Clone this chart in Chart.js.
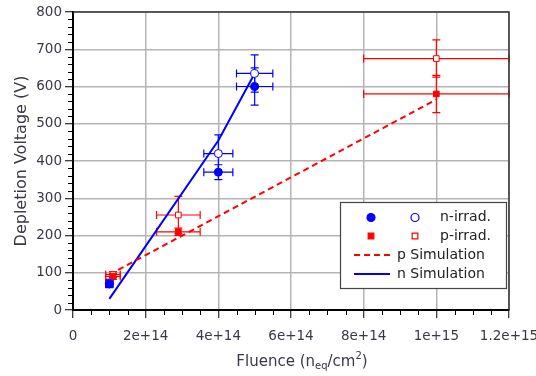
<!DOCTYPE html>
<html>
<head>
<meta charset="utf-8">
<script src="https://cdn.jsdelivr.net/npm/chart.js@4.4.0/dist/chart.umd.min.js"></script>
<style>
  html, body { margin: 0; padding: 0; background: #fff; }
</style>
</head>
<body>
<canvas id="chart" width="536" height="376"></canvas>
<script>
// n-irradiated sensors
const nFluence = [1e14, 4e14, 5e14];
const nFluenceErr = [0.1e14, 0.4e14, 0.5e14];
const nFilledV = [70, 370, 600];
const nFilledErr = [10, 20, 50];
const nOpenV = [72, 420, 635];
const nOpenErr = [10, 50, 50];

// p-irradiated sensors
const pFluence = [1.1e14, 2.9e14, 1e15];
const pFluenceErr = [0.2e14, 0.6e14, 2e14];
const pFilledV = [90, 210, 580];
const pFilledErr = [8, 10, 50];
const pOpenV = [95, 255, 675];
const pOpenErr = [8, 50, 50];

// simulation curves
const pSimFluence = [1e14, 1e15];
const pSimV = [95, 565];
const nSimFluence = [1e14, 4e14, 5e14];
const nSimV = [30, 455, 635];

const legendLabels = ["n-irrad.", "p-irrad.", "p Simulation", "n Simulation"];

const FONT = '"DejaVu Sans", sans-serif';
const TEXT = "#383848";
const BLUE = "#0000ff";
const RED = "#ff0000";

const pts = (xs, ys) => xs.map((x, i) => ({ x: x, y: ys[i] }));

function errorBars(ctx, sx, sy, xs, ys, xErr, yErr, color) {
    const cap = 4;
    ctx.save();
    ctx.strokeStyle = color;
    ctx.lineWidth = 1.2;
    for (let i = 0; i < xs.length; i++) {
        const px = sx.getPixelForValue(xs[i]);
        const py = sy.getPixelForValue(ys[i]);
        const x0 = sx.getPixelForValue(xs[i] - xErr[i]);
        const x1 = sx.getPixelForValue(xs[i] + xErr[i]);
        const y0 = sy.getPixelForValue(ys[i] - yErr[i]);
        const y1 = sy.getPixelForValue(ys[i] + yErr[i]);
        ctx.beginPath();
        ctx.moveTo(x0, py); ctx.lineTo(x1, py);
        ctx.moveTo(x0, py - cap); ctx.lineTo(x0, py + cap);
        ctx.moveTo(x1, py - cap); ctx.lineTo(x1, py + cap);
        ctx.moveTo(px, y0); ctx.lineTo(px, y1);
        ctx.moveTo(px - cap, y0); ctx.lineTo(px + cap, y0);
        ctx.moveTo(px - cap, y1); ctx.lineTo(px + cap, y1);
        ctx.stroke();
    }
    ctx.restore();
}

const errorBarPlugin = {
    id: "errorBars",
    beforeDatasetsDraw(chart) {
        const { ctx, scales } = chart;
        errorBars(ctx, scales.x, scales.y, nFluence, nFilledV, nFluenceErr, nFilledErr, BLUE);
        errorBars(ctx, scales.x, scales.y, nFluence, nOpenV, nFluenceErr, nOpenErr, BLUE);
        errorBars(ctx, scales.x, scales.y, pFluence, pFilledV, pFluenceErr, pFilledErr, RED);
        errorBars(ctx, scales.x, scales.y, pFluence, pOpenV, pFluenceErr, pOpenErr, RED);
    },
};

const framePlugin = {
    id: "frame",
    afterDraw(chart) {
        const { ctx, chartArea: ca, scales } = chart;
        ctx.save();
        // minor ticks
        ctx.strokeStyle = "#000";
        ctx.lineWidth = 1;
        ctx.beginPath();
        for (let v = 0; v <= 800; v += 20) {
            if (v % 100 === 0) continue;
            const y = Math.round(scales.y.getPixelForValue(v)) + 0.5;
            ctx.moveTo(ca.left - 5, y); ctx.lineTo(ca.left, y);
        }
        for (let k = 0; k <= 24; k++) {
            if (k % 4 === 0) continue;
            const x = Math.round(scales.x.getPixelForValue(k * 0.5e14)) + 0.5;
            ctx.moveTo(x, ca.bottom); ctx.lineTo(x, ca.bottom + 5);
        }
        ctx.stroke();

        // top / right frame
        ctx.strokeStyle = "#333";
        ctx.lineWidth = 1.5;
        ctx.beginPath();
        ctx.moveTo(ca.left, ca.top); ctx.lineTo(ca.right, ca.top); ctx.lineTo(ca.right, ca.bottom);
        ctx.stroke();

        // legend
        const bw = 166, bh = 86;
        const bx = ca.right - bw - 3, by = ca.top + 190;
        ctx.fillStyle = "#fff";
        ctx.fillRect(bx, by, bw, bh);
        ctx.strokeStyle = "#444";
        ctx.lineWidth = 1.2;
        ctx.strokeRect(bx + 0.5, by + 0.5, bw, bh);

        const rows = [by + 15.5, by + 34, by + 53, by + 72];
        const mk = (style, fill, color, x, y) => {
            ctx.fillStyle = fill;
            ctx.strokeStyle = color;
            Chart.helpers.drawPoint(ctx, { pointStyle: style, radius: 4, borderWidth: 1, rotation: 0 }, x, y);
        };
        mk("circle", BLUE, BLUE, bx + 31, rows[0]);
        mk("circle", "#fff", BLUE, bx + 75, rows[0]);
        mk("rect", RED, RED, bx + 31, rows[1]);
        mk("rect", "#fff", RED, bx + 75, rows[1]);

        ctx.lineWidth = 2;
        ctx.strokeStyle = RED;
        ctx.setLineDash([6, 4]);
        ctx.beginPath(); ctx.moveTo(bx + 14, rows[2]); ctx.lineTo(bx + 50, rows[2]); ctx.stroke();
        ctx.setLineDash([]);
        ctx.strokeStyle = BLUE;
        ctx.beginPath(); ctx.moveTo(bx + 14, rows[3]); ctx.lineTo(bx + 50, rows[3]); ctx.stroke();

        ctx.fillStyle = "#222";
        ctx.font = "14px " + FONT;
        ctx.textBaseline = "middle";
        ctx.textAlign = "left";
        ctx.fillText(legendLabels[0], bx + 100, rows[0]);
        ctx.fillText(legendLabels[1], bx + 100, rows[1]);
        ctx.fillText(legendLabels[2], bx + 57, rows[2]);
        ctx.fillText(legendLabels[3], bx + 57, rows[3]);

        // x axis title with sub/superscript
        const parts = [
            ["Fluence (n", 15, 0],
            ["eq", 10, 4],
            ["/cm", 15, 0],
            ["2", 10, -6],
            [")", 15, 0],
        ];
        let total = 0;
        for (const p of parts) {
            ctx.font = p[1] + "px " + FONT;
            total += ctx.measureText(p[0]).width;
        }
        let tx = (ca.left + ca.right) / 2 + 11 - total / 2;
        const ty = 362;
        ctx.fillStyle = TEXT;
        for (const p of parts) {
            ctx.font = p[1] + "px " + FONT;
            ctx.fillText(p[0], tx, ty + p[2]);
            tx += ctx.measureText(p[0]).width;
        }
        ctx.restore();
    },
};

new Chart(document.getElementById("chart").getContext("2d"), {
    type: "scatter",
    data: {
        datasets: [
            { label: "n filled", data: pts(nFluence, nFilledV), pointStyle: "circle", pointRadius: 4,
              backgroundColor: BLUE, borderColor: BLUE, borderWidth: 1 },
            { label: "n open", data: pts(nFluence, nOpenV), pointStyle: "circle", pointRadius: 4,
              backgroundColor: "#fff", borderColor: BLUE, borderWidth: 1 },
            { label: "p filled", data: pts(pFluence, pFilledV), pointStyle: "rect", pointRadius: 4,
              backgroundColor: RED, borderColor: RED, borderWidth: 1 },
            { label: "p open", data: pts(pFluence, pOpenV), pointStyle: "rect", pointRadius: 4,
              backgroundColor: "#fff", borderColor: RED, borderWidth: 1 },
            { label: "p Simulation", data: pts(pSimFluence, pSimV), showLine: true, pointRadius: 0,
              borderColor: RED, borderWidth: 2, borderDash: [6, 4] },
            { label: "n Simulation", data: pts(nSimFluence, nSimV), showLine: true, pointRadius: 0,
              borderColor: BLUE, borderWidth: 2 },
        ],
    },
    options: {
        responsive: false,
        animation: false,
        layout: { padding: { top: 12, right: 27, left: 0, bottom: 0 } },
        plugins: {
            legend: { display: false },
            tooltip: { enabled: false },
        },
        scales: {
            x: {
                type: "linear",
                min: 0,
                max: 1.2e15,
                afterFit(scale) {
                    scale.height = 66;
                    scale.paddingLeft = 0;
                    scale.paddingRight = 0;
                },
                ticks: {
                    stepSize: 2e14,
                    padding: 10,
                    maxRotation: 0,
                    color: TEXT,
                    font: { family: FONT, size: 13.5 },
                    callback: v => v === 0 ? "0" : Number(v.toPrecision(3)).toExponential(),
                },
                grid: { color: "#b4b4b4", lineWidth: 1.5, tickLength: 8, tickColor: "#000", tickWidth: 1 },
                border: { color: "#000", width: 2 },
            },
            y: {
                min: 0,
                max: 800,
                afterFit(scale) {
                    scale.width = 73;
                    scale.paddingTop = 0;
                    scale.paddingBottom = 0;
                },
                ticks: {
                    stepSize: 100,
                    padding: 3,
                    color: TEXT,
                    font: { family: FONT, size: 13.5 },
                },
                grid: { color: "#b4b4b4", lineWidth: 1.5, tickLength: 8, tickColor: "#000", tickWidth: 1 },
                border: { color: "#000", width: 2 },
                title: {
                    display: true,
                    text: "Depletion Voltage (V)",
                    color: TEXT,
                    font: { family: FONT, size: 16 },
                    padding: { top: 12, bottom: 0 },
                },
            },
        },
    },
    plugins: [errorBarPlugin, framePlugin],
});
</script>
</body>
</html>
